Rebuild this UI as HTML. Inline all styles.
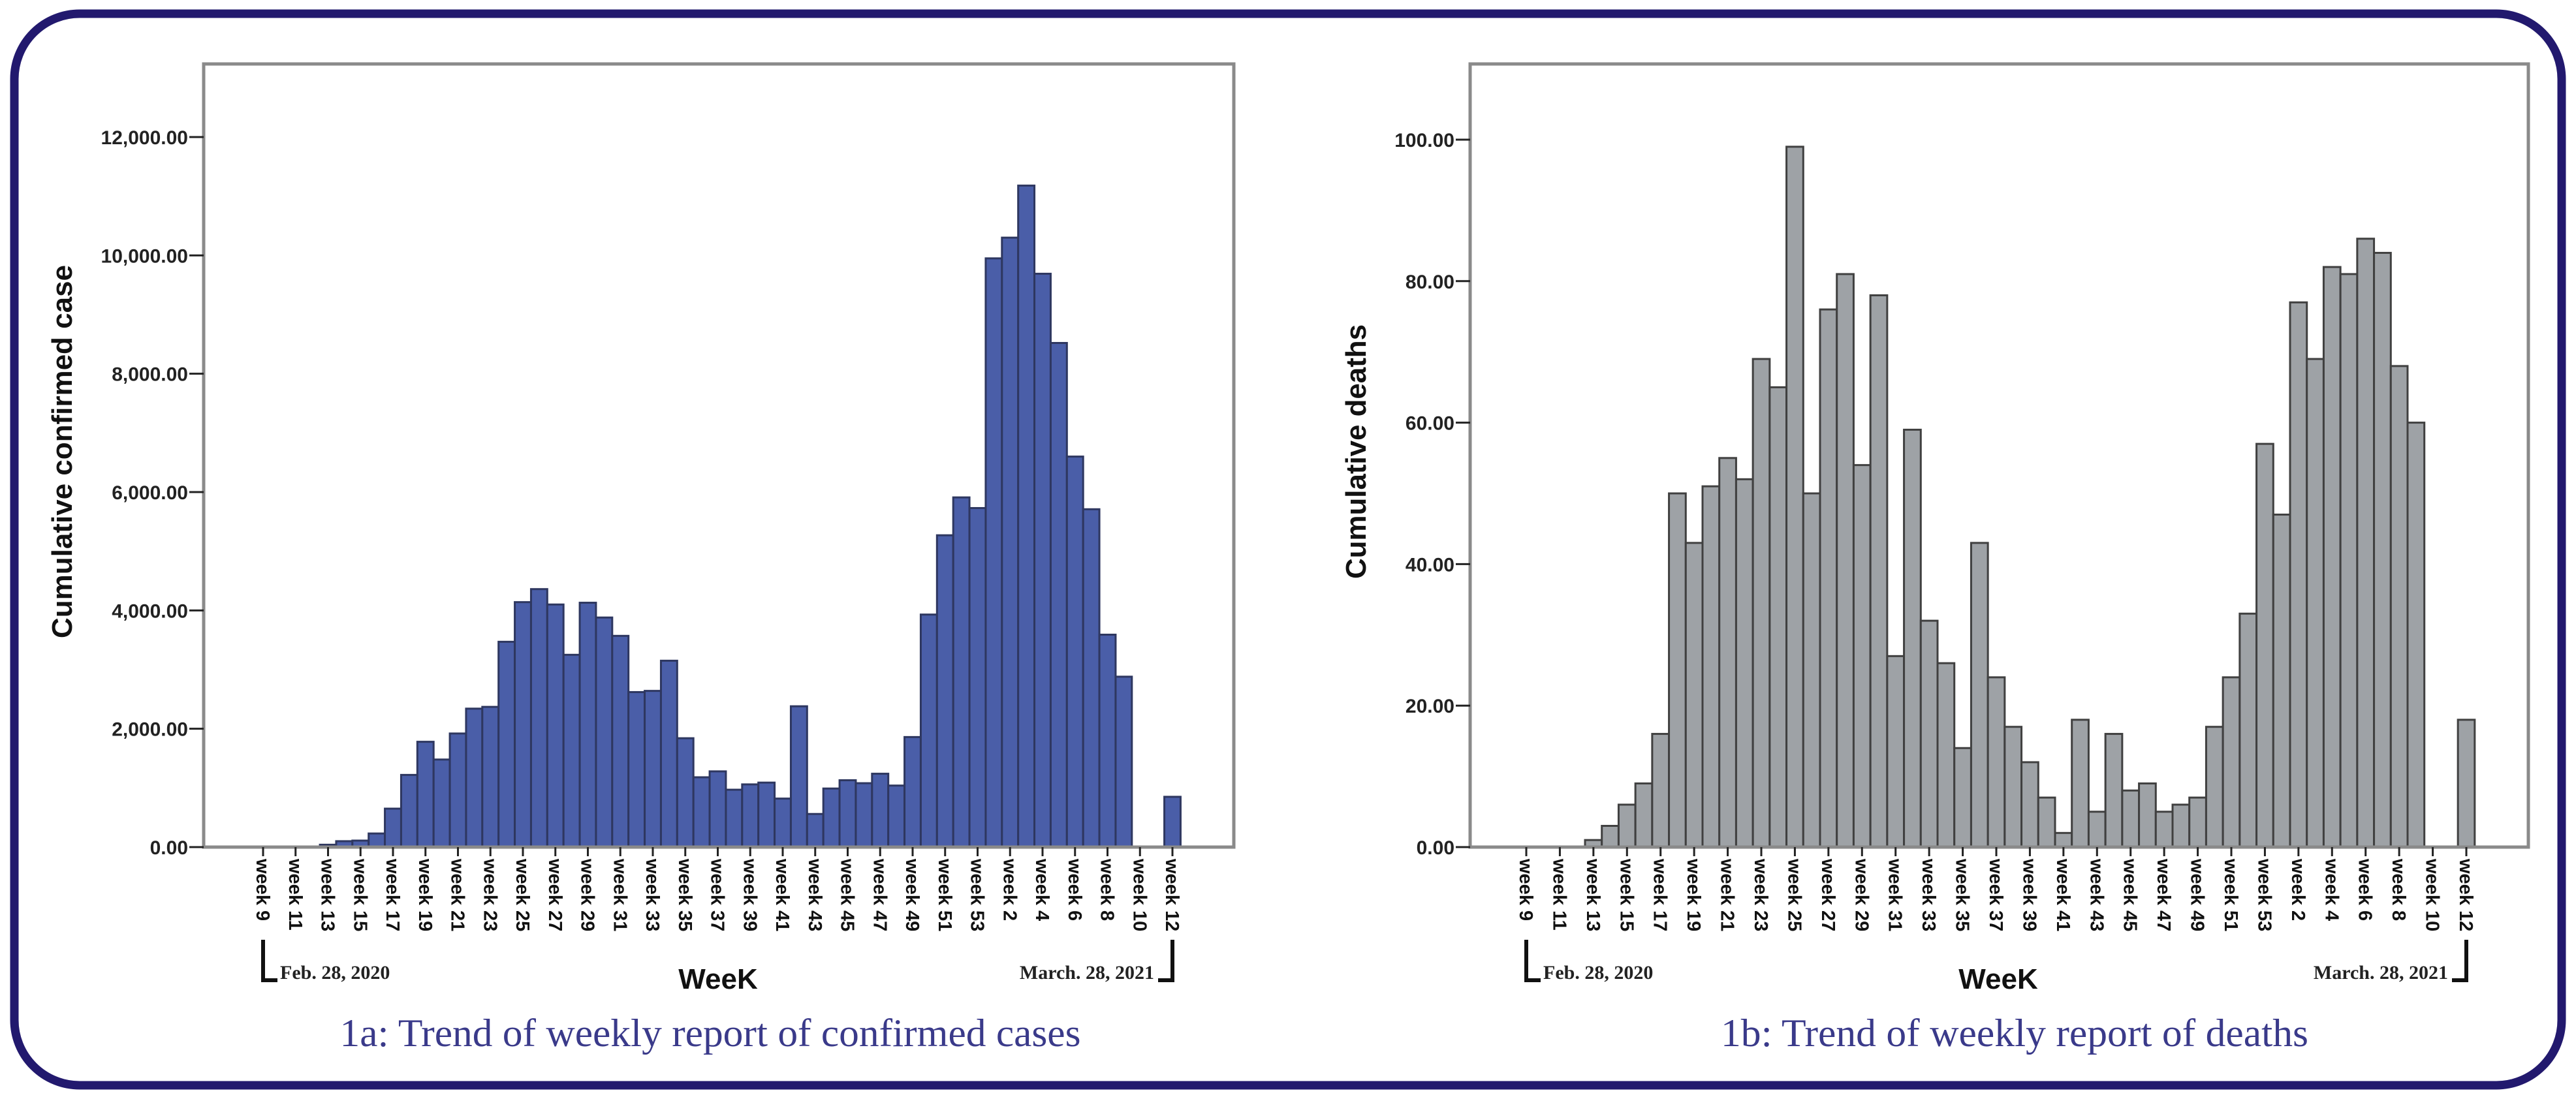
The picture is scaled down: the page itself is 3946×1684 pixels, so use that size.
<!DOCTYPE html>
<html><head><meta charset="utf-8"><style>
html,body{margin:0;padding:0;background:#fff;}
svg{display:block;}
</style></head><body>
<svg id="fig" width="3946" height="1684" viewBox="0 0 3946 1684" xmlns="http://www.w3.org/2000/svg">
<rect x="0" y="0" width="3946" height="1684" fill="#fff"/>
<rect x="22" y="21" width="3902" height="1642" rx="100" ry="100" fill="none" stroke="#22196e" stroke-width="13"/>
<g id="chartA"></g>
<g id="chartB"></g>
</svg>
<script>
const weekLabels = ["week 9","week 10","week 11","week 12","week 13","week 14","week 15","week 16","week 17","week 18","week 19","week 20","week 21","week 22","week 23","week 24","week 25","week 26","week 27","week 28","week 29","week 30","week 31","week 32","week 33","week 34","week 35","week 36","week 37","week 38","week 39","week 40","week 41","week 42","week 43","week 44","week 45","week 46","week 47","week 48","week 49","week 50","week 51","week 52","week 53","week 1","week 2","week 3","week 4","week 5","week 6","week 7","week 8","week 9","week 10","week 11","week 12"];
const casesValues = [0,0,0,0,40,100,110,230,650,1220,1780,1480,1920,2340,2370,3470,4140,4360,4100,3250,4130,3880,3570,2620,2640,3150,1840,1180,1280,970,1060,1090,820,2380,560,990,1130,1080,1240,1040,1860,3930,5270,5910,5730,9950,10300,11180,9690,8520,6600,5710,3590,2880,0,0,850];
const deathsValues = [0,0,0,0,1,3,6,9,16,50,43,51,55,52,69,65,99,50,76,81,54,78,27,59,32,26,14,43,24,17,12,7,2,18,5,16,8,9,5,6,7,17,24,33,57,47,77,69,82,81,86,84,68,60,0,0,18];
const casesTicks = [0,2000,4000,6000,8000,10000,12000];
const casesTickLabels = ["0.00","2,000.00","4,000.00","6,000.00","8,000.00","10,000.00","12,000.00"];
const deathsTicks = [0,20,40,60,80,100];
const deathsTickLabels = ["0.00","20.00","40.00","60.00","80.00","100.00"];

const NS = "http://www.w3.org/2000/svg";
function mk(parent, tag, attrs, text){
  const e = document.createElementNS(NS, tag);
  for (const k in attrs) e.setAttribute(k, attrs[k]);
  if (text !== undefined) e.textContent = text;
  parent.appendChild(e);
  return e;
}

function drawChart(g, cfg){
  const yScale = v => cfg.y0 - (v / cfg.yMax) * (cfg.y0 - cfg.yTop);
  const step = (cfg.xLast - cfg.xFirst) / (cfg.values.length - 1);
  const xScale = i => cfg.xFirst + i * step;
  const sans = '"Liberation Sans", sans-serif';
  const serif = '"Liberation Serif", serif';

  cfg.values.forEach((v, i) => {
    if (v <= 0) return;
    const y = yScale(v);
    const r = mk(g, 'rect', {x: xScale(i) - step/2, y: y, width: step, height: cfg.y0 - y, fill: cfg.fill, stroke: cfg.stroke, 'stroke-width': 3});
    
    
  });
  const fr = mk(g, 'rect', {x: cfg.fx0, y: cfg.frameTop, width: cfg.fx1 - cfg.fx0, height: cfg.y0 - cfg.frameTop, fill: 'none', stroke: '#8a8a8a', 'stroke-width': 5});
  
  
  cfg.ticks.forEach((t, i) => {
    const y = yScale(t);
    const tl = mk(g, 'line', {x1: cfg.fx0 - 22, x2: cfg.fx0, y1: y, y2: y, stroke: '#222', 'stroke-width': 3});
    
    
    const tx = mk(g, 'text', {x: cfg.fx0 - 24, y: y + 11, 'text-anchor': 'end', 'font-family': sans, 'font-weight': 'bold', 'font-size': 30, fill: '#222'}, cfg.tickLabels[i]);
    
    
  });
  cfg.values.forEach((v, i) => {
    if (i % 2 !== 0) return;
    const x = xScale(i);
    const tl = mk(g, 'line', {x1: x, x2: x, y1: cfg.y0, y2: cfg.y0 + 14, stroke: '#222', 'stroke-width': 3});
    
    
    const tx = mk(g, 'text', {x: 0, y: 0, 'font-family': sans, 'font-weight': 'bold', 'font-size': 29, fill: '#111', transform: 'translate(' + (x - 10) + ',' + (cfg.y0 + 18) + ') rotate(90)'}, weekLabels[i]);
    
    
  });
  const x0 = xScale(0), xN = xScale(cfg.values.length - 1);
  const b1 = mk(g, 'path', {d: 'M' + x0 + ' 1440 V1502 H' + (x0 + 22), fill: 'none', stroke: '#111', 'stroke-width': 6});
  
  
  const d1 = mk(g, 'text', {x: x0 + 26, y: 1500, 'font-family': serif, 'font-weight': 'bold', 'font-size': 30, fill: '#222'}, 'Feb. 28, 2020');
  
  
  const b2 = mk(g, 'path', {d: 'M' + (xN - 22) + ' 1502 H' + xN + ' V1440', fill: 'none', stroke: '#111', 'stroke-width': 6});
  
  
  const d2 = mk(g, 'text', {x: xN - 28, y: 1500, 'text-anchor': 'end', 'font-family': serif, 'font-weight': 'bold', 'font-size': 30, fill: '#222'}, 'March. 28, 2021');
  
  
  const xt = mk(g, 'text', {x: cfg.xTitleX, y: 1515, 'text-anchor': 'middle', 'font-family': sans, 'font-weight': 'bold', 'font-size': 44, fill: '#111'}, 'WeeK');
  
  
  const yt = mk(g, 'text', {x: 0, y: 0, 'text-anchor': 'middle', 'font-family': sans, 'font-weight': 'bold', 'font-size': 44, fill: '#111', textLength: cfg.yTitleLen, lengthAdjust: 'spacingAndGlyphs', transform: 'translate(' + cfg.yTitleX + ',692) rotate(-90)'}, cfg.yTitle);
  
  
  const cap = mk(g, 'text', {x: cfg.capX, y: 1603, 'text-anchor': 'middle', 'font-family': serif, 'font-size': 60, fill: '#3a3a8a', textLength: cfg.capLen, lengthAdjust: 'spacingAndGlyphs'}, cfg.caption);
  
  
}

drawChart(document.getElementById('chartA'), {
  prefix: 'cases', values: casesValues, ticks: casesTicks, tickLabels: casesTickLabels,
  yMax: 12000, y0: 1298, yTop: 210, frameTop: 98, fx0: 312, fx1: 1890,
  xFirst: 403, xLast: 1796, fill: '#4a5ea8', stroke: '#2e3760',
  yTitle: 'Cumulative confirmed case', yTitleX: 110, yTitleLen: 572, xTitleX: 1100,
  caption: '1a: Trend of weekly report of confirmed cases', capX: 1088, capLen: 1135
});
drawChart(document.getElementById('chartB'), {
  prefix: 'deaths', values: deathsValues, ticks: deathsTicks, tickLabels: deathsTickLabels,
  yMax: 100, y0: 1298, yTop: 214, frameTop: 98, fx0: 2252, fx1: 3873,
  xFirst: 2338, xLast: 3778, fill: '#9ea2a6', stroke: '#404040',
  yTitle: 'Cumulative deaths', yTitleX: 2092, yTitleLen: 390, xTitleX: 3061,
  caption: '1b: Trend of weekly report of deaths', capX: 3086, capLen: 900
});
</script>
</body></html>
